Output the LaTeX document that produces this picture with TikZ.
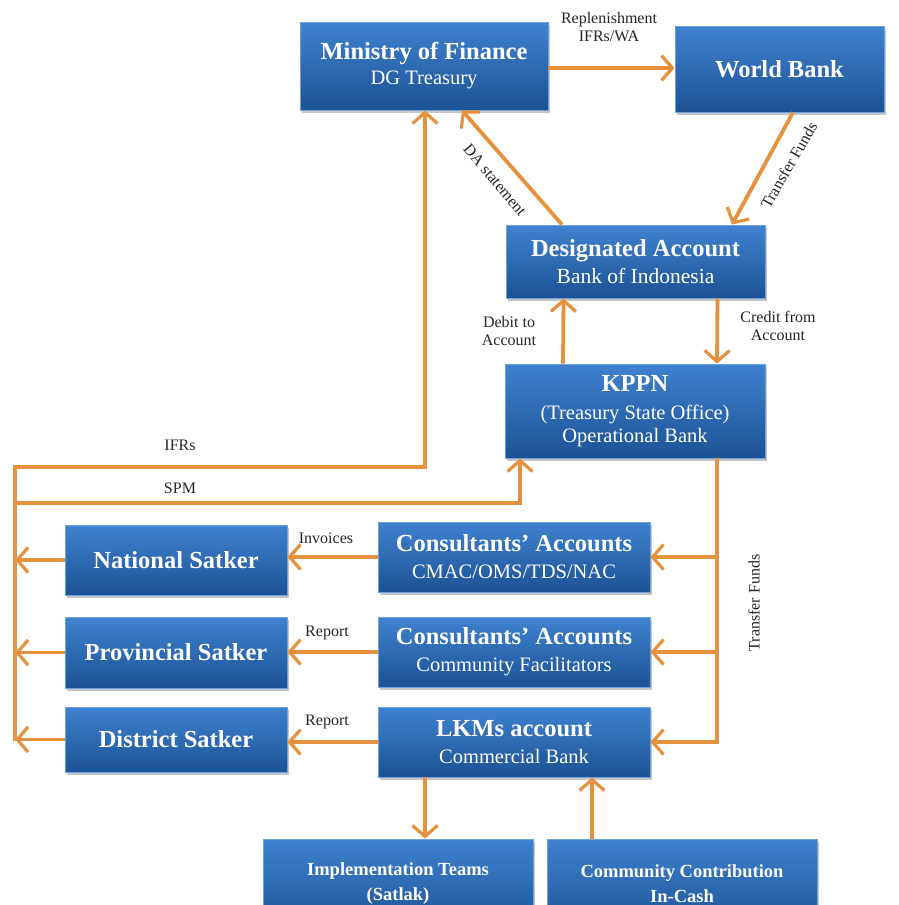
\documentclass[tikz,border=0pt]{standalone}
\usepackage{fontspec}
\setmainfont{Liberation Serif}
\usetikzlibrary{arrows.meta,shadows,calc}
\definecolor{boxtop}{HTML}{3F82D0}
\definecolor{boxbot}{HTML}{1B5394}
\definecolor{boxedge}{HTML}{6FA2DC}
\definecolor{arrowc}{HTML}{E6913D}
\newcommand\bxtitle[1]{{\fontsize{24.5}{25}\selectfont\bfseries #1}}
\tikzset{
  box/.style={rectangle, top color=boxtop, bottom color=boxbot, draw=boxedge,
    line width=0.8pt, text=white, align=center, inner sep=2pt,
    font=\fontsize{20.5}{25}\selectfont,
    drop shadow={shadow xshift=2pt,shadow yshift=-2.5pt,opacity=0.45}},
  smallbox/.style={box, font=\fontsize{18.5}{25}\selectfont\bfseries},
  conn/.style={draw=arrowc, line width=3.8pt},
  arr/.style={conn, -{Straight Barb[length=11pt,width=25pt,line width=3.2pt]}},
  lbl/.style={font=\fontsize{16}{18.5}\selectfont, align=center, text=black!85, inner sep=0pt}
}
\begin{document}
\begin{tikzpicture}[x=1pt,y=-1pt]
\useasboundingbox (0,0) rectangle (899,905);
\clip (0,0) rectangle (899,905);
\fill[white] (0,0) rectangle (899,905);

% boxes
\node[box, minimum width=248, minimum height=88] (mof) at (424,66) {\bxtitle{Ministry of Finance}\\DG Treasury};
\node[box, minimum width=209, minimum height=86] (wb) at (779.5,69) {\bxtitle{World Bank}};
\node[box, minimum width=259, minimum height=73, font=\fontsize{21.5}{27}\selectfont] (da) at (635.5,261.5) {\bxtitle{Designated Account}\\Bank of Indonesia};
\node[box, minimum width=260, minimum height=94, font=\fontsize{20.5}{22.5}\selectfont] (kppn) at (635,411) {\bxtitle{KPPN}\\[6pt](Treasury State Office)\\Operational Bank};
\node[box, minimum width=272, minimum height=70, font=\fontsize{20.5}{27}\selectfont] (c1) at (514,557) {\bxtitle{Consultants’ Accounts}\\CMAC/OMS/TDS/NAC};
\node[box, minimum width=272, minimum height=70, font=\fontsize{20.5}{27}\selectfont] (c2) at (514,652) {\bxtitle{Consultants’ Accounts}\\Community Facilitators};
\node[box, minimum width=272, minimum height=70, font=\fontsize{20.5}{27}\selectfont] (lkm) at (514,742) {\bxtitle{LKMs account}\\Commercial Bank};
\node[box, minimum width=222, minimum height=70] (nat) at (176,560) {\bxtitle{National Satker}};
\node[box, minimum width=222, minimum height=71] (prov) at (176,652.5) {\bxtitle{Provincial Satker}};
\node[box, minimum width=222, minimum height=65] (dist) at (176,739.5) {\bxtitle{District Satker}};
\node[smallbox, minimum width=270, minimum height=90] (impl) at (398,884) {Implementation Teams\\(Satlak)};
\node[smallbox, minimum width=270, minimum height=90] (comm) at (682,884) {Community Contribution\\In-Cash};

% helper coordinates
\coordinate (bt) at (15,467);
\coordinate (spm) at (15,503);
\coordinate (tfx) at (717,0);

% connectors
\draw[arr] (mof.east |- 0,68) -- (wb.west |- 0,68);
\draw[arr] ([xshift=13.5]wb.south) -- ([xshift=96.5]da.north);
\draw[arr] ([xshift=-73.5]da.north) -- ([xshift=38]mof.south);
\draw[arr] ([xshift=-72]kppn.north) -- ([xshift=-72]da.south);
\draw[arr] ([xshift=82]da.south) -- ([xshift=82]kppn.north);

% left bus
\draw[conn, line cap=rect] (bt) -- (bt |- dist.west);
\draw[arr] (bt) -| ([xshift=1]mof.south);
\draw[arr] (spm) -| ([xshift=-115]kppn.south);
\draw[arr] (nat.west) -- (bt |- nat.west);
\draw[arr] (prov.west) -- (bt |- prov.west);
\draw[arr] (dist.west) -- (bt |- dist.west);

% transfer funds
\draw[arr] ([xshift=82]kppn.south) |- (lkm.east);
\draw[arr] (tfx |- c1.east) -- (c1.east);
\draw[arr] (tfx |- c2.east) -- (c2.east);

% consultants to satker
\draw[arr] (c1.west) -- (c1.west -| nat.east);
\draw[arr] (c2.west) -- (c2.west -| prov.east);
\draw[arr] (lkm.west) -- (lkm.west -| dist.east);

% bottom
\draw[arr] (lkm.south -| impl.north) ++(27,0) coordinate (ld) -- (ld |- impl.north);
\draw[arr] ([xshift=-90]comm.north) -- ([xshift=-90]comm.north |- lkm.south);

% labels
\node[lbl] (lrep) at (609,27) {Replenishment\\IFRs/WA};
\node[lbl, rotate=60] (ltf) at (789,165) {Transfer Funds};
\node[lbl, rotate=-50] (lda) at (495,180) {DA statement};
\node[lbl] (ldeb) at (509,331) {Debit to\\Account};
\node[lbl] (lcre) at (778,326) {Credit from\\Account};
\node[lbl] (lifr) at (180,445) {IFRs};
\node[lbl] (lspm) at (180,488) {SPM};
\node[lbl] (linv) at (326,538) {Invoices};
\node[lbl] (lrp1) at (327,633) {Report};
\node[lbl] (lrp2) at (327,722) {Report};
\node[lbl, rotate=90] (ltf2) at (754,603) {Transfer Funds};
\end{tikzpicture}
\end{document}
